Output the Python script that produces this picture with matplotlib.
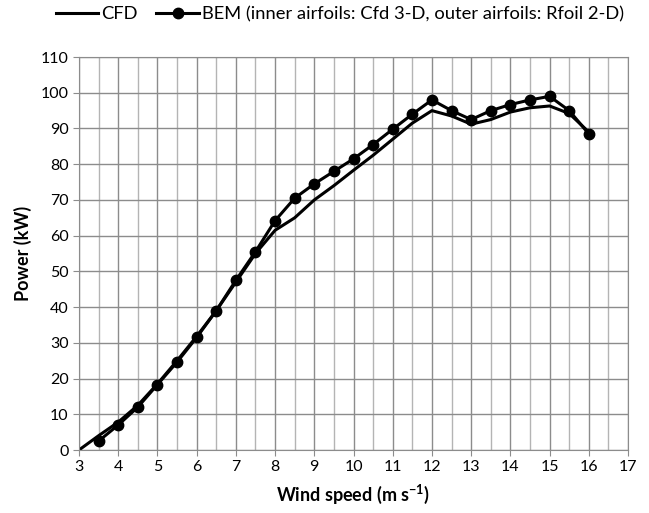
import numpy as np
import matplotlib
matplotlib.use("Agg")
import matplotlib.pyplot as plt
from matplotlib.ticker import MultipleLocator

plt.rcParams['font.family'] = ['Lato', 'DejaVu Sans']

# wind speed (m/s) and power (kW)
cfd_speed = [3, 3.5, 4, 4.5, 5, 5.5, 6, 6.5, 7, 7.5, 8, 8.5, 9, 9.5, 10, 10.5,
             11, 11.5, 12, 12.5, 13, 13.5, 14, 14.5, 15, 15.5, 16]
cfd_power = [0, 4, 7.8, 12.5, 18.5, 25, 31.8, 39, 47, 55, 61.5, 65, 70, 74, 78.3, 82.5,
             87, 91.5, 95, 93.5, 91.2, 92.5, 94.6, 95.8, 96.3, 94.2, 89]

bem_speed = [3.5, 4, 4.5, 5, 5.5, 6, 6.5, 7, 7.5, 8, 8.5, 9, 9.5, 10, 10.5,
             11, 11.5, 12, 12.5, 13, 13.5, 14, 14.5, 15, 15.5, 16]
bem_power = [2.5, 7, 12, 18.3, 24.6, 31.5, 39, 47.5, 55.5, 64.2, 70.5, 74.5, 78, 81.5, 85.5,
             89.8, 94, 98, 95, 92.5, 95, 96.7, 98, 99, 95, 88.5]

fig = plt.figure(figsize=(6.49, 5.13), dpi=100)
ax = fig.add_axes([0.1217, 0.1228, 0.846, 0.766])

ax.plot(cfd_speed, cfd_power, color='black', lw=2.2, label='CFD')
ax.plot(bem_speed, bem_power, color='black', lw=2.2, marker='o', ms=7.5,
        label='BEM (inner airfoils: Cfd 3-D, outer airfoils: Rfoil 2-D)')

ax.set_xlim(3, 17)
ax.set_ylim(0, 110)
ax.xaxis.set_major_locator(MultipleLocator(1))
ax.xaxis.set_minor_locator(MultipleLocator(0.5))
ax.yaxis.set_major_locator(MultipleLocator(10))
ax.grid(which='major', color='#8c8c8c', lw=1)
ax.grid(which='minor', axis='x', color='#b4b4b4', lw=1)
ax.set_axisbelow(True)
for s in ax.spines.values():
    s.set_color('#8c8c8c')
ax.tick_params(which='major', length=4, color='#8c8c8c', labelsize=11.5)
ax.tick_params(which='minor', length=0)

ax.set_xlabel('Wind speed (m s$^{\\mathregular{-1}}$)', fontsize=13, fontweight='bold', labelpad=6)
ax.set_ylabel('Power (kW)', fontsize=13, fontweight='bold', labelpad=6)

fig.legend(loc='upper center', bbox_to_anchor=(0.524, 1.01), ncol=2, frameon=False,
           fontsize=13.2, handlelength=2.3, columnspacing=1.0, handletextpad=0.2,
           borderaxespad=0.2)

fig.savefig('out.png', dpi=100)
